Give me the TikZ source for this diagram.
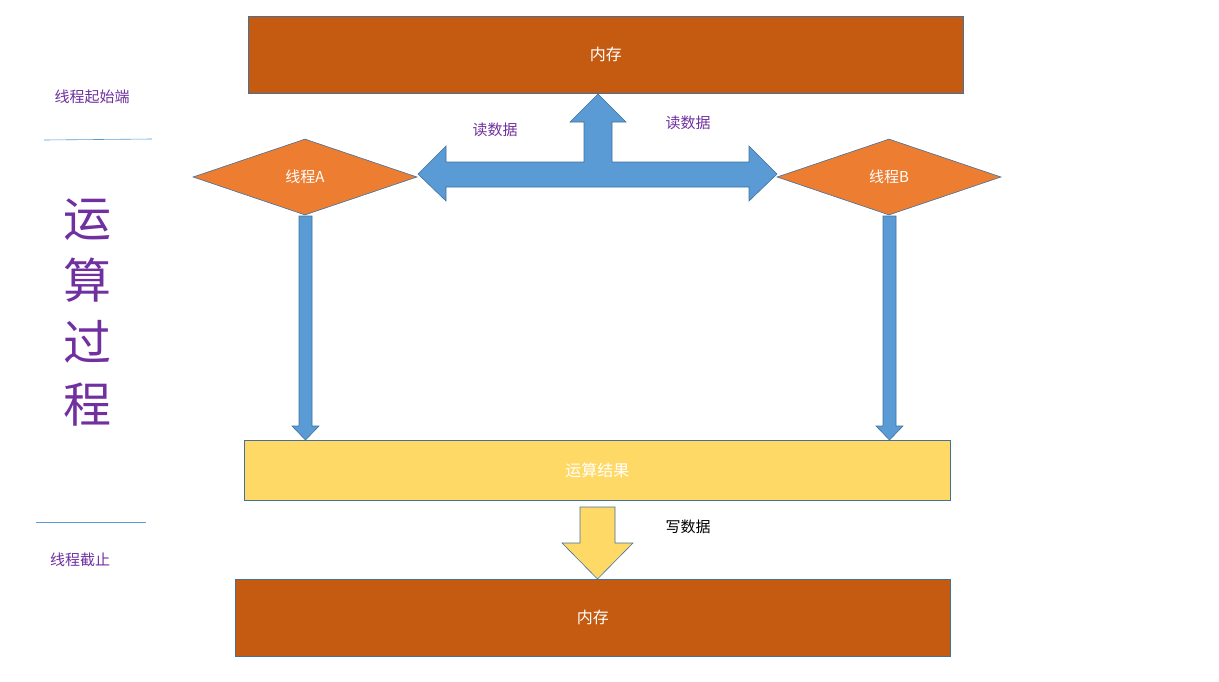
\documentclass[tikz,border=0pt]{standalone}
\usepackage{fontspec}
\setmainfont{Noto Sans CJK SC}
\usetikzlibrary{shapes.geometric}
\definecolor{mem}{HTML}{C55A11}
\definecolor{bd}{HTML}{41719C}
\definecolor{ar}{HTML}{5B9BD5}
\definecolor{yel}{HTML}{FFD966}
\definecolor{org}{HTML}{ED7D31}
\definecolor{pur}{HTML}{7030A0}
\begin{document}
\begin{tikzpicture}[x=1pt,y=-1pt,
 box/.style={draw=bd,line width=0.6pt,anchor=north west,inner sep=0,text=white,font=\fontsize{16}{16}\selectfont},
 dia/.style={diamond,aspect=2.95,draw=bd,line width=0.6pt,fill=org,text=white,inner sep=0,minimum width=224pt,minimum height=76pt,font=\fontsize{15}{15}\selectfont},
 arr/.style={fill=ar,draw=bd,line width=0.6pt},
 lab/.style={text=pur,font=\fontsize{15}{15}\selectfont}]
\useasboundingbox (0,0) rectangle (1219,681);
\node[box,fill=mem,minimum width=715pt,minimum height=77pt] (m1) at (248,16) {内存};
\node[box,fill=mem,minimum width=715pt,minimum height=77pt] (m2) at (235,579) {内存};
\node[box,fill=yel,minimum width=706pt,minimum height=60pt] (res) at (244,440) {运算结果};
\node[dia] (A) at (305,177) {线程A};
\node[dia] (B) at (889,177) {线程B};
% big read arrow
\draw[arr] (418,174) -- (446,146) -- (446,162) -- (584,162) -- (584,122) -- (570,122) -- (598,94) -- (626,122) -- (612,122) -- (612,162) -- (749,162) -- (749,146) -- (777,174) -- (749,201) -- (749,187) -- (446,187) -- (446,201) -- cycle;
% down arrows
\draw[arr] (299,216) -- (312,216) -- (312,426) -- (319,426) -- (305.5,440) -- (292,426) -- (299,426) -- cycle;
\draw[arr] (883,216) -- (896,216) -- (896,426) -- (903,426) -- (889.5,440) -- (876,426) -- (883,426) -- cycle;
\draw[fill=yel,draw=bd,line width=0.6pt] (580,507) -- (615,507) -- (615,543) -- (633,543) -- (597.5,579) -- (562,543) -- (580,543) -- cycle;
\node[lab] (r1) at (495,130) {读数据};
\node[lab] (r2) at (688,123) {读数据};
\node[font=\fontsize{15}{15}\selectfont] (w) at (688,527) {写数据};
\node[lab,font=\fontsize{15}{15}\selectfont] (s) at (92,97) {线程起始端};
\node[lab,font=\fontsize{15}{15}\selectfont] (e) at (80,560) {线程截止};
\draw[ar,line width=0.6pt] (44,140) -- (152,139);
\draw[ar,line width=0.6pt] (36,522) -- (146,522);
\node[lab,font=\fontsize{48}{62}\selectfont,align=center] (v) at (87,312) {运\\算\\过\\程};
\end{tikzpicture}
\end{document}
